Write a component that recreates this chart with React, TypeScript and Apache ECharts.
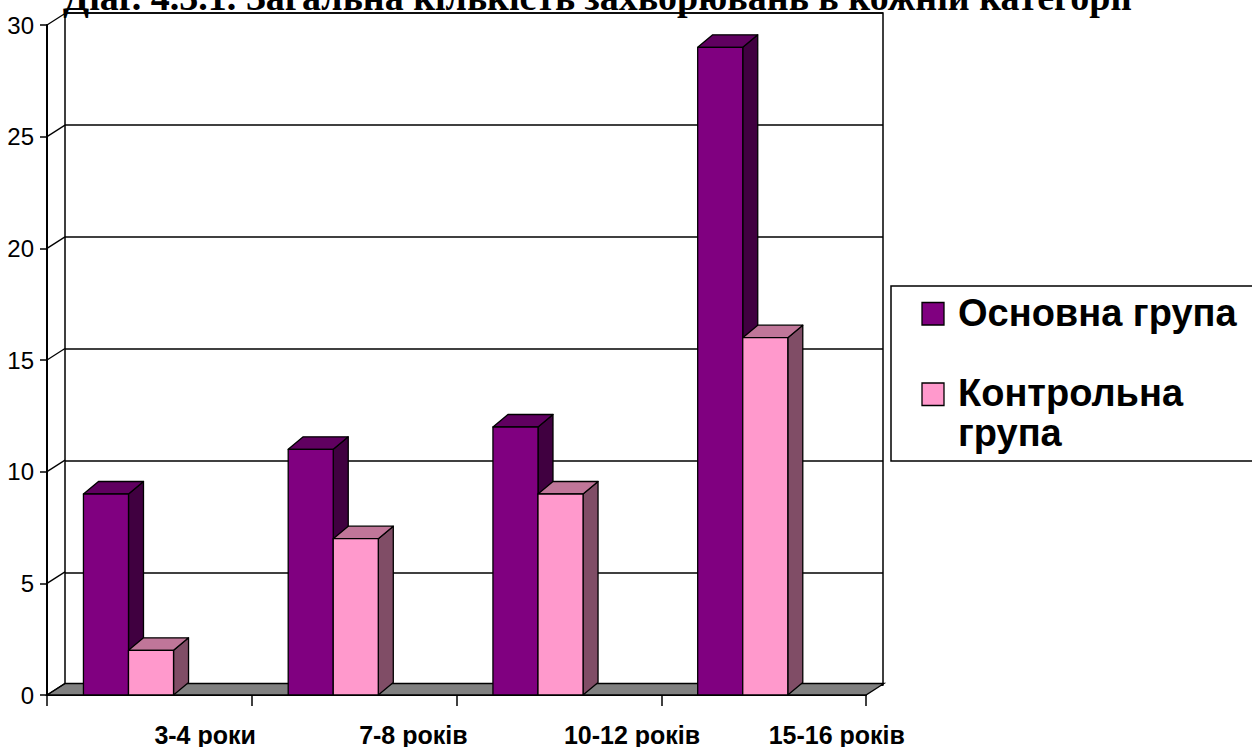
import React, { useEffect, useRef } from "react";
import * as echarts from "echarts";

const titleText = "Діаг. 4.3.1. Загальна кількість захворювань в кожній категорії";
const categories = ["3-4 роки", "7-8 років", "10-12 років", "15-16 років"];
const seriesNames = ["Основна група", "Контрольна група"];
const mainGroup = [9, 11, 12, 29];
const controlGroup = [2, 7, 9, 16];
const yTicks = [0, 5, 10, 15, 20, 25, 30];
const yMin = 0;
const yMax = 30;
const yStep = 5;

const SANS = "'Liberation Sans', Arial, sans-serif";
const SERIF = "'Liberation Serif', 'Times New Roman', serif";

// 3D styling constants (pixels)
const WDX = 18;
const WDY = -11.5;
const BDX = 15;
const BDY = -12.5;
const BAR_FRAC = 0.22;

const purple = { front: "#800080", top: "#600060", side: "#400040" };
const pink = { front: "#FF99CC", top: "#C07699", side: "#804D66" };

function barRender(startFrac: number, c: { front: string; top: string; side: string }) {
  return (params: any, api: any) => {
    const i = api.value(0);
    const v = api.value(1);
    const base = api.coord([i, 0]);
    const tp = api.coord([i, v]);
    const band = api.size([1, 0])[0];
    const w = band * BAR_FRAC;
    const x0 = base[0] + startFrac * band;
    const x1 = x0 + w;
    const yb = base[1];
    const yt = tp[1];
    const st = { stroke: "#000", lineWidth: 1.3, lineJoin: "round" };
    return {
      type: "group",
      children: [
        {
          type: "polygon",
          shape: { points: [[x1, yt], [x1 + BDX, yt + BDY], [x1 + BDX, yb + BDY], [x1, yb]] },
          style: { fill: c.side, ...st },
        },
        {
          type: "polygon",
          shape: { points: [[x0, yt], [x0 + BDX, yt + BDY], [x1 + BDX, yt + BDY], [x1, yt]] },
          style: { fill: c.top, ...st },
        },
        {
          type: "rect",
          shape: { x: x0, y: yt, width: w, height: yb - yt },
          style: { fill: c.front, ...st },
        },
      ],
    };
  };
}

export default function App() {
  const ref = useRef<HTMLDivElement>(null);
  useEffect(() => {
    if (!ref.current) return;
    const chart = echarts.init(ref.current, undefined, { renderer: "svg" });
    const option: any = {
      animation: false,
      backgroundColor: "#fff",
      grid: [
        { left: 47, right: 386, top: 25, bottom: 51 },
        {
          left: 65, right: 369, top: 13, bottom: 62,
          show: true, borderColor: "#000", borderWidth: 1.5, backgroundColor: "#fff",
        },
      ],
      xAxis: [
        {
          type: "category", gridIndex: 0, data: categories, boundaryGap: true,
          axisLine: { show: true, lineStyle: { color: "#000", width: 2 } },
          axisTick: { show: true, length: 11, lineStyle: { color: "#000", width: 1.5 } },
          axisLabel: {
            interval: 0, align: "left", margin: 27, padding: [0, 0, 0, 5],
            color: "#000", fontFamily: SANS, fontWeight: "bold", fontSize: 25, lineHeight: 25,
          },
          splitLine: { show: false },
        },
        {
          type: "category", gridIndex: 1, data: categories,
          axisLine: { show: false }, axisTick: { show: false }, axisLabel: { show: false },
          splitLine: { show: false },
        },
      ],
      yAxis: [
        {
          type: "value", gridIndex: 0, min: yMin, max: yMax, interval: yStep,
          axisLine: { show: true, lineStyle: { color: "#000", width: 2 } },
          axisTick: { show: true, length: 7, lineStyle: { color: "#000", width: 1.5 } },
          axisLabel: { color: "#000", fontFamily: SANS, fontSize: 24, margin: 13 },
          splitLine: { show: false },
        },
        {
          type: "value", gridIndex: 1, min: yMin, max: yMax, interval: yStep,
          axisLine: { show: false }, axisTick: { show: false }, axisLabel: { show: false },
          splitLine: { show: true, lineStyle: { color: "#000", width: 1.5 } },
        },
      ],
      series: [
        {
          type: "custom", name: "floor", xAxisIndex: 0, yAxisIndex: 0, z: 2,
          data: [[0, yMin]],
          renderItem: (params: any, api: any) => {
            const p = api.coord([0, yMin]);
            const band = api.size([1, 0])[0];
            const xl = p[0] - band / 2;
            const xr = xl + band * categories.length;
            const y = p[1];
            return {
              type: "polygon",
              shape: { points: [[xl, y], [xr, y], [xr + WDX, y + WDY], [xl + WDX, y + WDY]] },
              style: { fill: "#808080", stroke: "#000", lineWidth: 1.3 },
            };
          },
        },
        {
          type: "custom", name: "ticks3d", xAxisIndex: 0, yAxisIndex: 0, z: 2,
          data: yTicks.map((v) => [0, v]),
          renderItem: (params: any, api: any) => {
            const v = api.value(1);
            const p = api.coord([0, v]);
            const band = api.size([1, 0])[0];
            const x = p[0] - band / 2;
            return {
              type: "line",
              shape: { x1: x, y1: p[1], x2: x + WDX, y2: p[1] + WDY },
              style: { stroke: "#000", lineWidth: 1.3 },
            };
          },
        },
        {
          type: "custom", name: seriesNames[0], xAxisIndex: 0, yAxisIndex: 0, z: 3,
          data: mainGroup.map((v, i) => [i, v]),
          renderItem: barRender(-0.322, purple),
        },
        {
          type: "custom", name: seriesNames[1], xAxisIndex: 0, yAxisIndex: 0, z: 4,
          data: controlGroup.map((v, i) => [i, v]),
          renderItem: barRender(-0.102, pink),
        },
      ],
      graphic: [
        {
          type: "text", x: 63, y: 10 - 0.34 * 38, z: 10,
          style: {
            text: titleText, fill: "#000", font: `bold 38px ${SERIF}`,
            verticalAlign: "middle", align: "left",
          },
        },
        {
          type: "rect", z: 10,
          shape: { x: 891, y: 286, width: 400, height: 175 },
          style: { fill: "#fff", stroke: "#000", lineWidth: 1.5 },
        },
        {
          type: "rect", z: 11,
          shape: { x: 922, y: 302.5, width: 22, height: 22.5 },
          style: { fill: purple.front, stroke: "#000", lineWidth: 1.3 },
        },
        {
          type: "rect", z: 11,
          shape: { x: 922, y: 383, width: 22, height: 22.5 },
          style: { fill: pink.front, stroke: "#000", lineWidth: 1.3 },
        },
        {
          type: "text", x: 958, y: 313, z: 11,
          style: {
            text: seriesNames[0], fill: "#000", font: `bold 38px ${SANS}`,
            verticalAlign: "middle", align: "left",
          },
        },
        {
          type: "text", x: 958, y: 373, z: 11,
          style: {
            text: "Контрольна\nгрупа", fill: "#000", font: `bold 38px ${SANS}`,
            lineHeight: 40, verticalAlign: "top", align: "left",
          },
        },
      ],
    };
    chart.setOption(option);
    return () => chart.dispose();
  }, []);
  return (
    <div
      ref={ref}
      style={{ position: "absolute", left: 0, top: 0, width: 1252, height: 747 }}
    />
  );
}
